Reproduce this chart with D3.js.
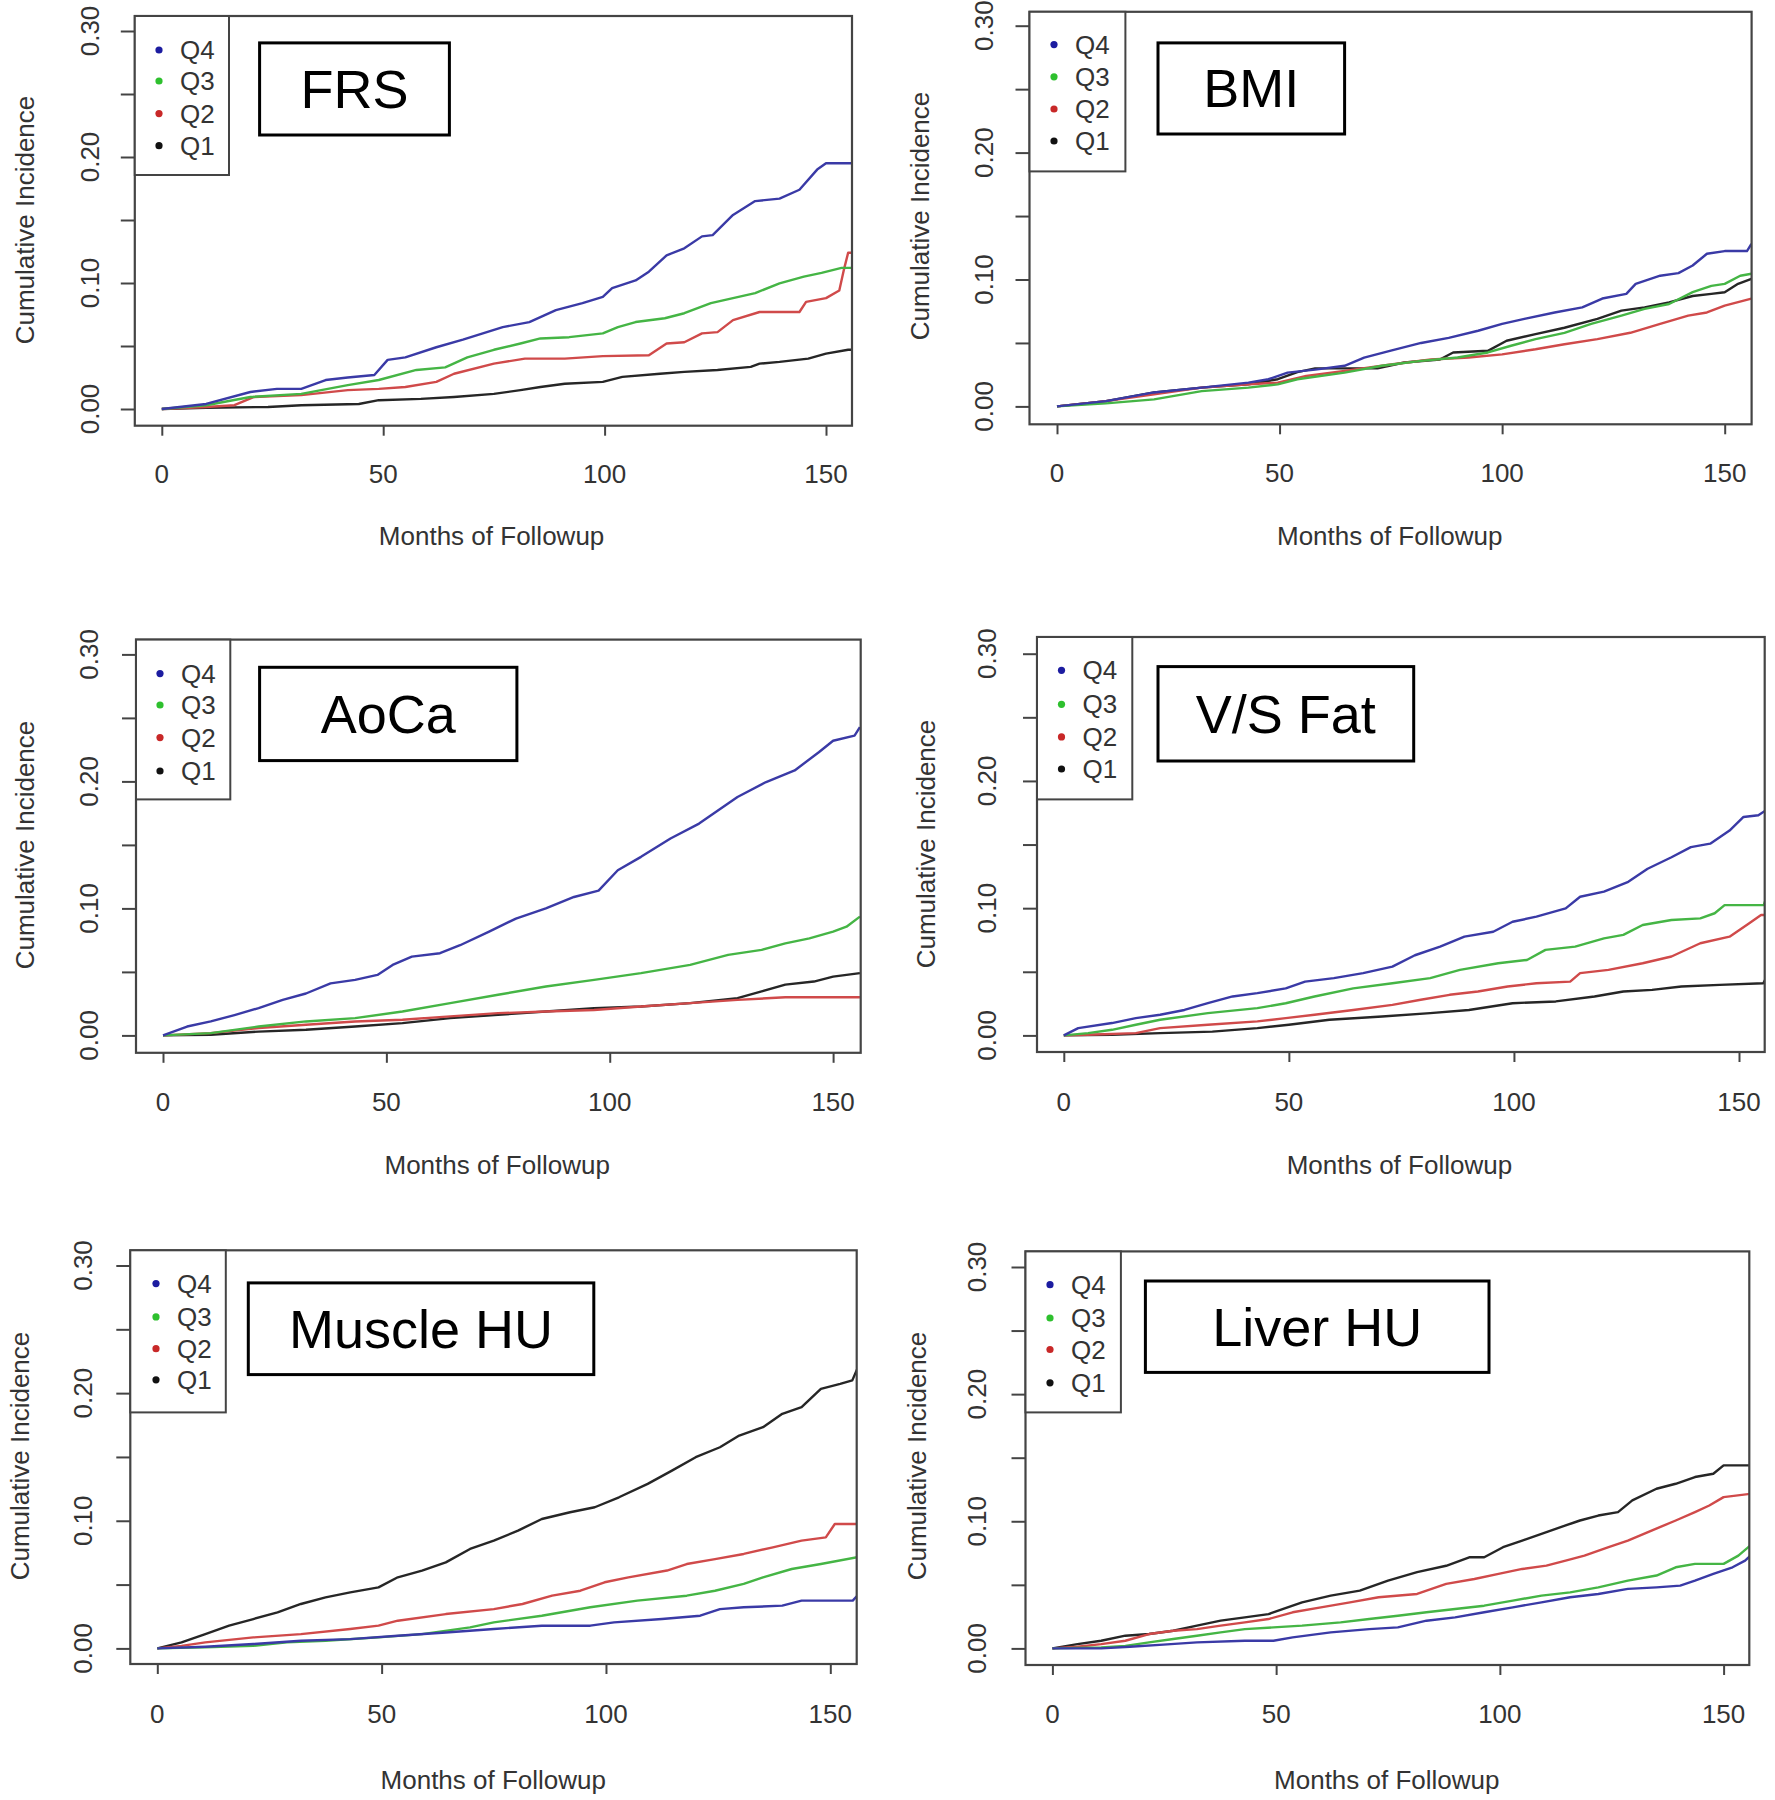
<!DOCTYPE html>
<html>
<head>
<meta charset="utf-8">
<script src="https://cdn.jsdelivr.net/npm/d3@7"></script>
<style>
  html, body { margin: 0; padding: 0; background: #fff; }
  svg { display: block; }
  text { font-family: "Liberation Sans", Arial, sans-serif; }
</style>
</head>
<body>
<svg id="chart" width="1775" height="1800"></svg>
<script>
// ---------------- DATA ----------------
const seriesNames = ["Q4", "Q3", "Q2", "Q1"];
const xTicks = [0, 50, 100, 150];
const yTicks = [0, 0.05, 0.10, 0.15, 0.20, 0.25, 0.30];
const yTickLabels = ["0.00", "", "0.10", "", "0.20", "", "0.30"];
const panelTitles = ["FRS", "BMI", "AoCa", "V/S Fat", "Muscle HU", "Liver HU"];
const xAxisTitle = "Months of Followup";
const yAxisTitle = "Cumulative Incidence";

// FRS
const frsQ4 = [[0,0],[5,0.002],[10,0.004],[20,0.0135],[26,0.016],[31.5,0.016],[37,0.023],[42,0.025],[48,0.027],[51,0.039],[55,0.041],[62,0.049],[68,0.055],[77,0.065],[83,0.069],[89,0.0785],[95,0.084],[99.6,0.089],[101.7,0.096],[107,0.102],[110,0.109],[114,0.122],[118,0.1275],[122,0.137],[124.4,0.138],[129,0.154],[134,0.165],[139.5,0.167],[144,0.174],[148,0.19],[150,0.195],[156,0.195]];
const frsQ3 = [[0,0],[10,0.003],[20,0.0095],[31.5,0.012],[42,0.019],[49,0.023],[57.5,0.031],[64,0.033],[69,0.041],[75,0.047],[81,0.052],[85.5,0.056],[92,0.057],[99.6,0.060],[103,0.065],[107,0.069],[113.6,0.072],[118,0.076],[124,0.084],[129,0.088],[134,0.092],[139.5,0.0997],[145,0.105],[149,0.108],[153.5,0.112],[156,0.112]];
const frsQ2 = [[0,0],[10,0.0016],[16.4,0.003],[20.7,0.0095],[31.5,0.011],[42,0.015],[49,0.016],[55,0.0175],[62,0.0215],[66,0.028],[75,0.036],[82,0.040],[91,0.040],[99.6,0.042],[110,0.0427],[114,0.052],[118,0.053],[122,0.060],[125.5,0.061],[129,0.0705],[135,0.077],[144,0.077],[145.5,0.085],[150,0.088],[153,0.094],[154,0.110],[155,0.124],[156,0.124]];
const frsQ1 = [[0,0],[10,0.001],[24,0.0016],[31.5,0.003],[44.5,0.004],[49,0.007],[58.5,0.008],[66,0.0095],[75,0.012],[81,0.015],[85.5,0.0175],[91,0.020],[99.6,0.0215],[104,0.0255],[112.5,0.028],[118,0.0295],[125.5,0.031],[133,0.0334],[135,0.036],[139.5,0.0374],[146,0.040],[150,0.044],[155,0.047],[156,0.047]];

// BMI
const bmiQ4 = [[0,0],[11,0.0042],[21.8,0.011],[32.5,0.0148],[43,0.0187],[47.5,0.0214],[51.8,0.0266],[58,0.029],[64.6,0.032],[69,0.0385],[75,0.044],[81.8,0.050],[88,0.054],[94.6,0.0596],[100,0.065],[105,0.069],[111.8,0.074],[118,0.078],[122.5,0.085],[127.9,0.0887],[130,0.0966],[135.5,0.103],[139.6,0.105],[142.8,0.111],[146,0.1203],[150,0.1224],[155,0.1224],[156,0.128]];
const bmiQ3 = [[0,0],[11,0.0024],[21.8,0.0055],[32.5,0.012],[43,0.0148],[49.6,0.0174],[54,0.0214],[64.6,0.0266],[73,0.032],[81.8,0.0359],[90,0.0385],[96.8,0.0425],[102,0.0478],[107.5,0.053],[114,0.058],[120,0.065],[126.8,0.0715],[132,0.0768],[137.5,0.0807],[142.8,0.090],[147,0.095],[150,0.0966],[153.5,0.103],[156,0.1045]];
const bmiQ2 = [[0,0],[11,0.0042],[21.8,0.0095],[32.5,0.0148],[43,0.0174],[49.6,0.0187],[56,0.024],[64.6,0.028],[75,0.033],[84,0.037],[92.5,0.0385],[100,0.041],[107.5,0.045],[114,0.049],[121.4,0.053],[128.8,0.058],[135.5,0.065],[141.8,0.0715],[146,0.074],[150,0.0794],[156,0.085]];
const bmiQ1 = [[0,0],[11,0.0042],[21.8,0.011],[32.5,0.0148],[43,0.0174],[49.6,0.0214],[54,0.027],[58,0.030],[72,0.030],[78,0.0346],[86,0.037],[89,0.0425],[96.8,0.0438],[101,0.0517],[107.5,0.057],[114,0.062],[121.4,0.069],[126.8,0.0755],[132,0.078],[137.5,0.082],[142.8,0.087],[147,0.0887],[150,0.090],[153,0.0966],[156,0.1005]];

// AoCa
const aocaQ4 = [[0,0],[5.4,0.007],[10.7,0.011],[16,0.016],[21.4,0.0215],[26.8,0.028],[32,0.033],[37.5,0.041],[43,0.0437],[48,0.0476],[51.4,0.0555],[55.7,0.062],[62,0.0647],[66.5,0.071],[73,0.0817],[79,0.092],[85.7,0.1],[92,0.109],[97.5,0.114],[101.8,0.130],[107,0.1406],[113.6,0.155],[120,0.1668],[128.6,0.1877],[135,0.1995],[141.4,0.2086],[146.8,0.223],[150,0.232],[154.8,0.236],[156,0.2427]];
const aocaQ3 = [[0,0],[10.7,0.0018],[21.4,0.007],[32,0.011],[43,0.0136],[53.6,0.0188],[64.3,0.0254],[75,0.032],[85.7,0.0385],[96.5,0.0437],[107,0.049],[118,0.0555],[126.5,0.0634],[134,0.0673],[139.3,0.0725],[144.7,0.0764],[150,0.0817],[153,0.0856],[156,0.0935]];
const aocaQ2 = [[0,0],[10.7,0.0018],[21.4,0.0058],[32,0.0084],[43,0.011],[53.6,0.0123],[64.3,0.015],[75,0.0175],[85.7,0.0188],[96.5,0.020],[107,0.0228],[118,0.0254],[128.6,0.028],[139.3,0.030],[156,0.030]];
const aocaQ1 = [[0,0],[10.7,0.0005],[21.4,0.003],[32,0.0045],[43,0.007],[53.6,0.0097],[64.3,0.0136],[75,0.0162],[85.7,0.0188],[96.5,0.0215],[107,0.0228],[118,0.0254],[128.6,0.0293],[134,0.0346],[139.3,0.040],[145.7,0.0424],[150,0.0463],[156,0.049]];

// V/S Fat
const vsQ4 = [[0,0],[3.2,0.0057],[10.7,0.0097],[16,0.0136],[21.4,0.0162],[26.8,0.020],[32,0.0253],[37.5,0.0306],[43,0.0332],[49.3,0.037],[53.6,0.0423],[60,0.045],[66.5,0.0489],[73,0.054],[78,0.063],[83.6,0.0698],[89,0.0776],[95.4,0.0815],[99.7,0.0893],[105,0.0933],[111.5,0.0998],[114.7,0.109],[120,0.113],[125.4,0.1207],[129.7,0.131],[135,0.140],[139.3,0.148],[143.6,0.1507],[147.9,0.161],[151,0.1717],[154.3,0.173],[156,0.177]];
const vsQ3 = [[0,0],[5.4,0.0018],[10.7,0.0044],[16,0.0084],[21.4,0.0123],[32,0.0175],[43,0.0214],[49.3,0.0253],[55.7,0.0306],[64.3,0.037],[73,0.041],[81.4,0.045],[88,0.0515],[96.5,0.0567],[102.9,0.0593],[107,0.0672],[113.6,0.0698],[120,0.0763],[124.3,0.079],[128.6,0.0868],[135,0.0907],[141.4,0.092],[144.6,0.096],[146.8,0.1024],[155.5,0.1024],[156,0.1077]];
const vsQ2 = [[0,0],[5.4,0.0005],[16,0.0018],[21.4,0.0057],[32,0.0084],[43,0.011],[49.3,0.0136],[55.7,0.0162],[64.3,0.020],[73,0.024],[79.3,0.028],[85.7,0.0319],[92,0.0345],[98.6,0.0384],[105,0.041],[112.5,0.0423],[114.7,0.0489],[121,0.0515],[128.6,0.0567],[135,0.062],[141.4,0.0724],[147.9,0.0776],[152.2,0.088],[154.9,0.0946],[156,0.0946]];
const vsQ1 = [[0,0],[10.7,0.0005],[21.4,0.0018],[33,0.003],[43,0.0057],[50,0.0084],[59,0.0123],[70.7,0.0149],[81.4,0.0175],[90,0.020],[99.7,0.0253],[109.3,0.0267],[117.9,0.0306],[124.3,0.0345],[130.7,0.0358],[137.2,0.0384],[145.7,0.0397],[155.4,0.041],[156,0.045]];

// Muscle HU
const muscleQ4 = [[0,0],[10.7,0.0013],[21.4,0.0034],[32,0.006],[43,0.0073],[53.6,0.0099],[64.3,0.0125],[75,0.0152],[85.7,0.0178],[96.5,0.0178],[101.8,0.0204],[112.5,0.023],[121,0.0256],[125.4,0.0308],[130.7,0.0322],[139.3,0.0335],[143.6,0.0374],[155,0.0374],[156,0.0413]];
const muscleQ3 = [[0,0],[10.7,0.0008],[21.4,0.002],[28.9,0.0047],[37.5,0.006],[49.3,0.0086],[59,0.0112],[69.7,0.0165],[75,0.0204],[85.7,0.0256],[96.5,0.0322],[107,0.0374],[118,0.0413],[124.3,0.0452],[130.7,0.0505],[135,0.0557],[141.4,0.0622],[147.9,0.0661],[156,0.0714]];
const muscleQ2 = [[0,0],[5.4,0.002],[10.7,0.0047],[21.4,0.0086],[32,0.0112],[43,0.0152],[49.3,0.0178],[53.6,0.0217],[64.3,0.0269],[75,0.0308],[81.4,0.0348],[88,0.0413],[94.3,0.0452],[99.7,0.0518],[105,0.0557],[113.6,0.061],[118,0.0661],[124.3,0.070],[130.7,0.074],[137.2,0.0792],[143.6,0.0844],[149,0.087],[151,0.0975],[156,0.0975]];
const muscleQ1 = [[0,0],[5.4,0.0047],[10.7,0.0112],[16,0.0178],[21.4,0.023],[26.8,0.0282],[32,0.0348],[37.5,0.040],[43,0.0439],[49.3,0.0478],[53.6,0.0557],[59,0.061],[64.3,0.0674],[69.7,0.0779],[75,0.0844],[80.4,0.0923],[85.7,0.1014],[92,0.1067],[97.5,0.1106],[102.9,0.1184],[109.3,0.1289],[114.7,0.1393],[120,0.1498],[125.4,0.1576],[129.7,0.1668],[135,0.1733],[139.3,0.1838],[143.6,0.189],[147.9,0.2034],[152.2,0.2073],[154.9,0.21],[156,0.219]];

// Liver HU
const liverQ4 = [[0,0],[10.9,0],[17.3,0.0013],[24.8,0.003],[32.3,0.0047],[43,0.006],[49.4,0.006],[53.7,0.0087],[62.2,0.0126],[70.8,0.0152],[77.2,0.0165],[83.6,0.0218],[90,0.0244],[96.5,0.0284],[102.9,0.0323],[109.3,0.0362],[115.7,0.0402],[122,0.0428],[128.6,0.0468],[135,0.048],[140.3,0.0494],[143.6,0.0533],[147.7,0.0586],[152,0.0638],[154.8,0.069],[156,0.073]];
const liverQ3 = [[0,0],[10.9,0.0008],[16.3,0.002],[21.6,0.0047],[27,0.0074],[32.3,0.010],[37.6,0.0126],[43,0.0152],[49.4,0.0165],[55.8,0.0179],[64.4,0.0205],[70.8,0.0231],[77.2,0.0257],[83.6,0.0284],[90,0.031],[96.5,0.0336],[102.9,0.0376],[109.3,0.0415],[115.7,0.0441],[122,0.048],[128.6,0.0533],[135,0.0573],[139.3,0.0638],[143.6,0.0665],[150,0.0665],[153.3,0.073],[156,0.081]];
const liverQ2 = [[0,0],[5.6,0.0013],[10.9,0.0034],[16.3,0.006],[21.6,0.0113],[27,0.0139],[32.3,0.0152],[37.6,0.0179],[43,0.0205],[48.3,0.0231],[53.7,0.0284],[60,0.0323],[66.5,0.0362],[72.9,0.0402],[81.5,0.0428],[88,0.0507],[94.3,0.0546],[99.7,0.0586],[105,0.0625],[110.4,0.0651],[114.7,0.0691],[118.9,0.073],[124.3,0.0796],[128.6,0.0848],[133.9,0.0927],[139.3,0.1006],[143.6,0.1072],[146.8,0.1124],[150,0.119],[156,0.1216]];
const liverQ1 = [[0,0],[5.6,0.0034],[10.9,0.006],[16.3,0.010],[21.6,0.0113],[27,0.0139],[32.3,0.0179],[37.6,0.0218],[43,0.0244],[48.3,0.027],[51.6,0.031],[55.8,0.0362],[62.2,0.0415],[68.7,0.0454],[75,0.0533],[81.5,0.060],[88,0.065],[93.3,0.0717],[96.5,0.0717],[100.7,0.0796],[105,0.0848],[109.3,0.090],[114.7,0.0967],[117.9,0.1006],[122,0.1045],[126.4,0.1072],[129.6,0.1164],[135,0.1256],[139.3,0.1295],[143.6,0.1348],[147.7,0.1374],[150,0.144],[156,0.144]];

const panelSeries = [
  [frsQ4, frsQ3, frsQ2, frsQ1],
  [bmiQ4, bmiQ3, bmiQ2, bmiQ1],
  [aocaQ4, aocaQ3, aocaQ2, aocaQ1],
  [vsQ4, vsQ3, vsQ2, vsQ1],
  [muscleQ4, muscleQ3, muscleQ2, muscleQ1],
  [liverQ4, liverQ3, liverQ2, liverQ1]
];

// ---------------- STYLE / LAYOUT ----------------
const lineColors = ["#3a3aa6", "#45b545", "#d04a4a", "#262626"];
const dotColors  = ["#1c1ca0", "#2ec02e", "#c82828", "#111111"];

// per-panel pixel layout: box, scale anchors, legend, title box, label positions
const layouts = [
  { box:[134.8,16,852,425.7], x0:161.8, x150:826, y0:409, y30:31,
    leg:[229,175], dotX:159, rows:[50,81,113.6,145.7], tbox:[259.6,42.9,449.4,135],
    xt:[491.6,536], yt:[25,220], yLabX:90, xLabY:474 },
  { box:[1029.5,11.8,1751.6,424.3], x0:1057, x150:1724.7, y0:406.4, y30:25.7,
    leg:[1125.4,171.4], dotX:1054, rows:[44.6,76.8,109,141], tbox:[1158,42.9,1344.6,134],
    xt:[1389.7,536], yt:[920,216], yLabX:984, xLabY:473 },
  { box:[136,639.6,860.7,1052.8], x0:163, x150:833.1, y0:1035.4, y30:654.4,
    leg:[230.3,799.4], dotX:160, rows:[673.6,705,737.6,771], tbox:[259.6,667.3,516.9,760.6],
    xt:[497.2,1165], yt:[25.3,845], yLabX:89, xLabY:1102 },
  { box:[1037,637,1764.7,1052], x0:1063.8, x150:1739, y0:1035.4, y30:653.7,
    leg:[1132.3,799.4], dotX:1061.5, rows:[670.3,704.3,736.9,769], tbox:[1158,666.6,1413.7,761],
    xt:[1399.4,1165], yt:[925.7,844], yLabX:987, xLabY:1102 },
  { box:[130.3,1250.3,856.7,1664], x0:157.3, x150:830.3, y0:1648.4, y30:1265.5,
    leg:[225.8,1412.4], dotX:156, rows:[1283.6,1316.9,1348.7,1379.8], tbox:[248.3,1282.9,593.8,1374.6],
    xt:[493.3,1780], yt:[19.7,1456], yLabX:83, xLabY:1714 },
  { box:[1025.5,1251.4,1749.3,1665], x0:1052.4, x150:1723.6, y0:1648.4, y30:1267,
    leg:[1120.9,1412.4], dotX:1050, rows:[1284.7,1318,1349.5,1382.8], tbox:[1145.4,1281,1489,1372.4],
    xt:[1386.8,1780], yt:[917,1456], yLabX:977, xLabY:1714 }
];

const svg = d3.select("#chart");
const axisColor = "#444";
const textColor = "#333";
const fontSize = 26;

layouts.forEach((L, pi) => {
  const g = svg.append("g");
  const [bx0, by0, bx1, by1] = L.box;
  const x = d3.scaleLinear().domain([0, 150]).range([L.x0, L.x150]);
  const y = d3.scaleLinear().domain([0, 0.3]).range([L.y0, L.y30]);

  const clipId = "clip" + pi;
  g.append("clipPath").attr("id", clipId)
    .append("rect").attr("x", bx0).attr("y", by0).attr("width", bx1 - bx0).attr("height", by1 - by0);

  // series lines (Q1 drawn first, Q4 last)
  const line = d3.line().x(d => x(d[0])).y(d => y(d[1])).curve(d3.curveLinear);
  const lines = g.append("g").attr("clip-path", `url(#${clipId})`);
  [3, 2, 1, 0].forEach(si => {
    lines.append("path")
      .datum(panelSeries[pi][si])
      .attr("d", line)
      .attr("fill", "none")
      .attr("stroke", lineColors[si])
      .attr("stroke-width", 2.4)
      .attr("stroke-linejoin", "round");
  });

  // x axis
  const xAxis = d3.axisBottom(x).tickValues(xTicks).tickSize(10).tickFormat("");
  const xg = g.append("g").attr("transform", `translate(0,${by1})`).call(xAxis);
  xg.select(".domain").remove();
  xg.selectAll(".tick line").attr("stroke", axisColor).attr("stroke-width", 2);
  g.selectAll(null).data(xTicks).enter().append("text")
    .attr("x", d => x(d)).attr("y", L.xLabY)
    .attr("text-anchor", "middle").attr("dominant-baseline", "central")
    .attr("font-size", fontSize).attr("fill", textColor)
    .text(d => String(d));

  // y axis
  const yAxis = d3.axisLeft(y).tickValues(yTicks).tickSize(14).tickFormat("");
  const yg = g.append("g").attr("transform", `translate(${bx0},0)`).call(yAxis);
  yg.select(".domain").remove();
  yg.selectAll(".tick line").attr("stroke", axisColor).attr("stroke-width", 2);
  g.selectAll(null).data(yTicks.map((v, i) => [v, yTickLabels[i]]).filter(d => d[1] !== ""))
    .enter().append("text")
    .attr("transform", d => `translate(${L.yLabX},${y(d[0])}) rotate(-90)`)
    .attr("text-anchor", "middle").attr("dominant-baseline", "central")
    .attr("font-size", fontSize).attr("fill", textColor)
    .text(d => d[1]);

  // plot box
  g.append("rect").attr("x", bx0).attr("y", by0).attr("width", bx1 - bx0).attr("height", by1 - by0)
    .attr("fill", "none").attr("stroke", axisColor).attr("stroke-width", 2.2);

  // axis titles
  g.append("text").attr("x", L.xt[0]).attr("y", L.xt[1])
    .attr("text-anchor", "middle").attr("dominant-baseline", "central")
    .attr("font-size", fontSize).attr("fill", textColor).text(xAxisTitle);
  g.append("text").attr("transform", `translate(${L.yt[0]},${L.yt[1]}) rotate(-90)`)
    .attr("text-anchor", "middle").attr("dominant-baseline", "central")
    .attr("font-size", fontSize).attr("fill", textColor).text(yAxisTitle);

  // legend
  g.append("rect").attr("x", bx0).attr("y", by0).attr("width", L.leg[0] - bx0).attr("height", L.leg[1] - by0)
    .attr("fill", "#fff").attr("stroke", axisColor).attr("stroke-width", 2);
  seriesNames.forEach((name, si) => {
    g.append("circle").attr("cx", L.dotX).attr("cy", L.rows[si]).attr("r", 3.6).attr("fill", dotColors[si]);
    g.append("text").attr("x", L.dotX + 21).attr("y", L.rows[si])
      .attr("dominant-baseline", "central").attr("font-size", fontSize).attr("fill", textColor)
      .text(name);
  });

  // title box
  const [tx0, ty0, tx1, ty1] = L.tbox;
  g.append("rect").attr("x", tx0).attr("y", ty0).attr("width", tx1 - tx0).attr("height", ty1 - ty0)
    .attr("fill", "#fff").attr("stroke", "#000").attr("stroke-width", 3);
  g.append("text").attr("x", (tx0 + tx1) / 2).attr("y", (ty0 + ty1) / 2)
    .attr("text-anchor", "middle").attr("dominant-baseline", "central")
    .attr("font-size", 54).attr("fill", "#000")
    .text(panelTitles[pi]);
});
</script>
</body>
</html>
